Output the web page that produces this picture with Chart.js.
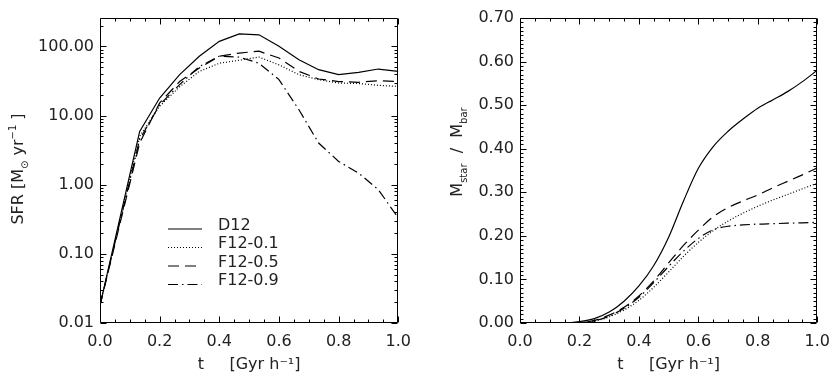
<!DOCTYPE html>
<html>
<head>
<meta charset="utf-8">
<script src="https://cdn.jsdelivr.net/npm/chart.js@4.4.1/dist/chart.umd.min.js"></script>
<style>
  html, body { margin: 0; padding: 0; background: #fff; }
  #wrap { position: relative; width: 839px; height: 381px; }
  canvas { position: absolute; top: 0; }
</style>
</head>
<body>
<div id="wrap">
  <canvas id="sfr-chart" width="420" height="381" style="left:0"></canvas>
  <canvas id="mass-chart" width="419" height="381" style="left:420px"></canvas>
</div>
<script>
const FONT = '"DejaVu Sans", sans-serif';
const INK = '#000';
const TEXT = '#222';

// left panel: star formation rate
const timeSfr = [0, 0.133, 0.2, 0.267, 0.333, 0.4, 0.467, 0.533, 0.6, 0.667, 0.733, 0.8, 0.867, 0.933, 1.0];
const sfrD12 = [0.018, 5.9, 17.9, 39, 72, 118, 151, 147, 100, 64, 46, 39, 42, 47, 43.5];
const sfrF01 = [0.018, 5.0, 13.6, 26, 43.5, 57, 63, 70, 54, 39, 33, 29.5, 29, 27.3, 26.4];
const sfrF05 = [0.018, 4.0, 15.2, 31, 48.6, 72, 80, 85, 68, 43.5, 33.7, 31, 30.2, 31.9, 31];
const sfrF09 = [0.018, 4.5, 14.3, 28, 51, 72, 70, 57, 33, 12.1, 4.0, 2.17, 1.47, 0.85, 0.33];

// right panel: stellar mass fraction
const timeMass = [0, 0.05, 0.1, 0.15, 0.2, 0.25, 0.3, 0.35, 0.4, 0.45, 0.5, 0.55, 0.6, 0.65, 0.7, 0.75, 0.8, 0.85, 0.9, 0.95, 1.0];
const massD12 = [0, 0, 0, 0, 0.003, 0.010, 0.025, 0.05, 0.085, 0.132, 0.197, 0.280, 0.355, 0.405, 0.44, 0.468, 0.493, 0.512, 0.531, 0.554, 0.58];
const massF01 = [0, 0, 0, 0, 0, 0.004, 0.014, 0.03, 0.052, 0.082, 0.117, 0.153, 0.185, 0.212, 0.234, 0.252, 0.268, 0.282, 0.295, 0.308, 0.321];
const massF05 = [0, 0, 0, 0, 0.001, 0.006, 0.018, 0.036, 0.062, 0.097, 0.138, 0.178, 0.213, 0.244, 0.265, 0.28, 0.294, 0.31, 0.325, 0.34, 0.356];
const massF09 = [0, 0, 0, 0, 0.001, 0.005, 0.016, 0.034, 0.059, 0.093, 0.13, 0.165, 0.194, 0.214, 0.222, 0.225, 0.227, 0.228, 0.229, 0.23, 0.231];

const seriesLabels = ['D12', 'F12-0.1', 'F12-0.5', 'F12-0.9'];
const seriesDash = [[], [1, 2], [11, 6], [10, 4, 1.5, 4]];

const xTicks = [0, 0.2, 0.4, 0.6, 0.8, 1.0];
const sfrTicks = [0.01, 0.1, 1, 10, 100];
const massTicks = [0, 0.1, 0.2, 0.3, 0.4, 0.5, 0.6, 0.7];

// minor ticks between the labelled ones
function linearMinor(majors, parts) {
  const out = [];
  for (let i = 0; i < majors.length - 1; i++) {
    const step = (majors[i + 1] - majors[i]) / parts;
    for (let k = 1; k < parts; k++) out.push(majors[i] + k * step);
  }
  return out;
}
function logMinor(majors, max) {
  const out = [];
  majors.forEach(d => {
    for (let k = 2; k <= 9; k++) if (k * d <= max) out.push(k * d);
  });
  return out;
}

// IDL style frame: box with inward ticks on all four sides
const boxTicks = {
  id: 'boxTicks',
  afterDraw(chart, args, opts) {
    const { ctx, chartArea: a } = chart;
    const xs = chart.scales.x, ys = chart.scales.y;
    const L = Math.round(a.left) + 0.5, R = Math.round(a.right) - 0.5;
    const T = Math.round(a.top) + 0.5, B = Math.round(a.bottom) - 0.5;
    ctx.save();
    ctx.strokeStyle = INK;
    ctx.lineWidth = 1;
    ctx.setLineDash([]);
    ctx.beginPath();
    ctx.rect(L, T, R - L, B - T);
    const xMark = (v, len) => {
      const p = Math.round(xs.getPixelForValue(v)) + 0.5;
      ctx.moveTo(p, B); ctx.lineTo(p, B - len);
      ctx.moveTo(p, T); ctx.lineTo(p, T + len);
    };
    const yMark = (v, len) => {
      const p = Math.round(ys.getPixelForValue(v)) + 0.5;
      ctx.moveTo(L, p); ctx.lineTo(L + len, p);
      ctx.moveTo(R, p); ctx.lineTo(R - len, p);
    };
    opts.xMajor.forEach(v => xMark(v, 6));
    opts.xMinor.forEach(v => xMark(v, 3));
    opts.yMajor.forEach(v => yMark(v, 6));
    opts.yMinor.forEach(v => yMark(v, 3));
    ctx.stroke();
    ctx.restore();
  }
};

// rotated y title with sub/superscripts
function drawRich(ctx, parts, size, cx, cy) {
  const small = Math.round(size * 0.62);
  let total = 0;
  parts.forEach(p => {
    ctx.font = (p.sub || p.sup ? small : size) + 'px ' + FONT;
    p.w = ctx.measureText(p.t).width;
    total += p.w;
  });
  ctx.save();
  ctx.translate(cx, cy);
  ctx.rotate(-Math.PI / 2);
  ctx.fillStyle = TEXT;
  ctx.textBaseline = 'alphabetic';
  let x = -total / 2;
  parts.forEach(p => {
    ctx.font = (p.sub || p.sup ? small : size) + 'px ' + FONT;
    const dy = p.sub ? size * 0.3 : (p.sup ? -size * 0.42 : 0);
    ctx.fillText(p.t, x, dy);
    x += p.w;
  });
  ctx.restore();
}

const yTitle = {
  id: 'yTitle',
  afterDraw(chart, args, opts) {
    drawRich(chart.ctx, opts.parts, 16, opts.x, opts.y);
  }
};

// legend inside the left panel
const insideLegend = {
  id: 'insideLegend',
  afterDraw(chart, args, opts) {
    if (!opts.show) return;
    const ctx = chart.ctx;
    ctx.save();
    ctx.font = '16px ' + FONT;
    ctx.fillStyle = TEXT;
    ctx.strokeStyle = INK;
    ctx.lineWidth = 1.2;
    ctx.textBaseline = 'alphabetic';
    chart.data.datasets.forEach((ds, i) => {
      const base = opts.top + i * opts.gap;
      ctx.setLineDash(ds.borderDash);
      ctx.beginPath();
      ctx.moveTo(opts.x0, base - 0.5);
      ctx.lineTo(opts.x1, base - 0.5);
      ctx.stroke();
      ctx.fillText(ds.label, opts.tx, base);
    });
    ctx.restore();
  }
};

function makeSets(xs, lists, smooth) {
  return lists.map((vals, i) => ({
    label: seriesLabels[i],
    data: xs.map((x, j) => ({ x: x, y: vals[j] })),
    borderColor: INK,
    borderWidth: 1.2,
    borderDash: seriesDash[i],
    pointRadius: 0,
    fill: false,
    tension: smooth ? 0.4 : 0,
    cubicInterpolationMode: smooth ? 'monotone' : 'default',
  }));
}

function makeOptions(yCfg, yTicks, yMinor, titleParts, titleX, titleY, legend) {
  return {
    responsive: false,
    animation: false,
    events: [],
    layout: { padding: { left: 0, right: 17, top: 18, bottom: 0 } },
    plugins: {
      legend: { display: false },
      tooltip: { enabled: false },
      boxTicks: { xMajor: xTicks, xMinor: linearMinor(xTicks, 4), yMajor: yTicks, yMinor: yMinor },
      yTitle: { parts: titleParts, x: titleX, y: titleY },
      insideLegend: legend,
    },
    scales: {
      x: {
        type: 'linear',
        min: 0,
        max: 1,
        afterBuildTicks: s => { s.ticks = xTicks.map(v => ({ value: v })); },
        afterFit: s => { s.height = 58; },
        grid: { display: false, drawTicks: false },
        border: { display: false },
        ticks: {
          padding: 9,
          color: TEXT,
          autoSkip: false,
          maxRotation: 0,
          font: { family: FONT, size: 16 },
          callback: v => v.toFixed(1),
        },
        title: {
          display: true,
          text: 't     [Gyr h⁻¹]',
          color: TEXT,
          font: { family: FONT, size: 16 },
          padding: { top: 0, bottom: 7 },
        },
      },
      y: Object.assign({
        afterBuildTicks: s => { s.ticks = yTicks.map(v => ({ value: v })); },
        afterFit: s => { s.width = 100; },
        grid: { display: false, drawTicks: false },
        border: { display: false },
        ticks: {
          padding: 6,
          color: TEXT,
          autoSkip: false,
          font: { family: FONT, size: 16 },
          callback: v => Number(v).toFixed(2),
        },
      }, yCfg),
    },
  };
}

new Chart(document.getElementById('sfr-chart').getContext('2d'), {
  type: 'line',
  data: { datasets: makeSets(timeSfr, [sfrD12, sfrF01, sfrF05, sfrF09], false) },
  options: makeOptions(
    { type: 'logarithmic', min: 0.01, max: 257 },
    sfrTicks,
    logMinor(sfrTicks, 257),
    [{ t: 'SFR [M' }, { t: '⊙', sub: true }, { t: ' yr' }, { t: '−1', sup: true }, { t: ' ]' }],
    23, 169,
    { show: true, x0: 168, x1: 202, tx: 218, top: 229.5, gap: 18.5 }
  ),
  plugins: [boxTicks, yTitle, insideLegend],
});

const massOptions = makeOptions(
  { type: 'linear', min: 0, max: 0.7 },
  massTicks,
  linearMinor(massTicks, 10),
  [{ t: 'M' }, { t: 'star', sub: true }, { t: '  /  M' }, { t: 'bar', sub: true }],
  42, 152,
  { show: false }
);
massOptions.layout.padding.right = 16;

new Chart(document.getElementById('mass-chart').getContext('2d'), {
  type: 'line',
  data: { datasets: makeSets(timeMass, [massD12, massF01, massF05, massF09], true) },
  options: massOptions,
  plugins: [boxTicks, yTitle, insideLegend],
});
</script>
</body>
</html>
